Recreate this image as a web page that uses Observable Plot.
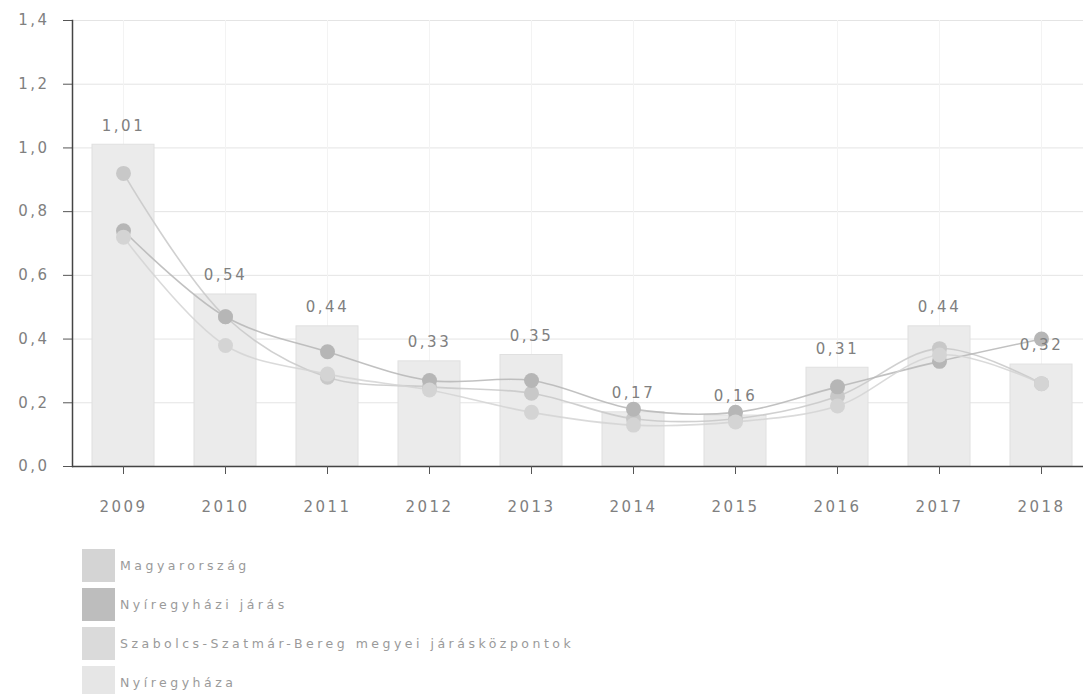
<!DOCTYPE html>
<html>
<head>
<meta charset="utf-8">
<script src="https://cdn.jsdelivr.net/npm/d3@7"></script>
<script src="https://cdn.jsdelivr.net/npm/@observablehq/plot@0.6"></script>
<style>
  html, body { margin: 0; padding: 0; background: #fff; }
  #chart svg { display: block; }
  .legend { margin: 18px 0 0 82px; font-family: "DejaVu Sans", sans-serif; font-size: 12.5px; letter-spacing: 3.5px; color: #9a9a9a; }
  .legend .row { display: flex; align-items: center; height: 34px; margin-bottom: 5px; }
  .legend .sw { width: 33px; height: 33px; margin-right: 5px; }
</style>
</head>
<body>
<div id="chart"></div>
<script>
const years = ["2009","2010","2011","2012","2013","2014","2015","2016","2017","2018"];
const nyiregyhaza = [1.01, 0.54, 0.44, 0.33, 0.35, 0.17, 0.16, 0.31, 0.44, 0.32];
const magyarorszag = [0.92, 0.47, 0.28, 0.25, 0.23, 0.15, 0.15, 0.22, 0.37, 0.26];
const jaras = [0.74, 0.47, 0.36, 0.27, 0.27, 0.18, 0.17, 0.25, 0.33, 0.40];
const szabolcs = [0.72, 0.38, 0.29, 0.24, 0.17, 0.13, 0.14, 0.19, 0.35, 0.26];
const yTicks = [0, 0.2, 0.4, 0.6, 0.8, 1.0, 1.2, 1.4];

const seriesNames = ["Magyarország", "Nyíregyházi járás", "Szabolcs-Szatmár-Bereg megyei járásközpontok", "Nyíregyháza"];
const seriesColors = ["#c8c8c8", "#b6b6b6", "#d4d4d4", "#e6e6e6"];

const fmt = v => v.toFixed(2).replace(".", ",");
const fmtTick = v => v.toFixed(1).replace(".", ",");

const bars = years.map((y, i) => ({year: y, value: nyiregyhaza[i]}));
const lineData = [];
[[magyarorszag, 0], [jaras, 1], [szabolcs, 2]].forEach(([arr, k]) => {
  years.forEach((y, i) => lineData.push({year: y, value: arr[i], series: seriesNames[k]}));
});

const font = "DejaVu Sans, sans-serif";
let marks = [
  Plot.gridY(yTicks, {stroke: "#e4e4e4", strokeOpacity: 1}),
  Plot.ruleX(years, {x: d => d, y1: 0, y2: 1.4, stroke: "#f3f3f3"}),
  Plot.barY(bars, {x: "year", y: "value", fill: "#ebebeb", stroke: "#e0e0e0", strokeWidth: 1}),
  Plot.line(lineData, {x: "year", y: "value", z: "series", stroke: "series", strokeWidth: 1.6, strokeOpacity: 0.85, curve: "catmull-rom"}),
  Plot.dot(lineData, {x: "year", y: "value", fill: "series", r: 7.5}),
  Plot.text(bars, {x: "year", y: "value", text: d => fmt(d.value), dy: -19, fill: "#808080", fontSize: 15, fontFamily: font, style: "letter-spacing:2.5px"}),
  Plot.ruleY([0], {stroke: "#444", strokeWidth: 1.5}),
  Plot.axisY({ticks: yTicks, tickFormat: fmtTick, tickSize: 9, tickPadding: 14, fontSize: 15, fill: "#808080", stroke: "#555", label: null}),
  Plot.axisX({tickSize: 8, tickPadding: 27, fontSize: 15, fill: "#808080", stroke: "#555", label: null})
];
try { marks.push(Plot.frame({anchor: "left", stroke: "#444", strokeWidth: 1.5})); } catch (e) {}

const chart = Plot.plot({
  width: 1083,
  height: 530,
  marginTop: 20,
  marginBottom: 64,
  marginLeft: 72,
  marginRight: -9,
  style: {fontFamily: font, background: "#fff", letterSpacing: "2.5px"},
  x: {domain: years, range: [72, 1092], paddingInner: 0.39, paddingOuter: 0.195, label: null},
  y: {domain: [0, 1.4], label: null},
  color: {domain: seriesNames, range: seriesColors},
  marks
});
document.getElementById("chart").appendChild(chart);

const legend = document.createElement("div");
legend.className = "legend";
seriesNames.forEach((n, i) => {
  const row = document.createElement("div");
  row.className = "row";
  const sw = document.createElement("div");
  sw.className = "sw";
  sw.style.background = ["#d4d4d4", "#bdbdbd", "#dadada", "#e6e6e6"][i];
  const t = document.createElement("span");
  t.textContent = n;
  row.appendChild(sw); row.appendChild(t);
  legend.appendChild(row);
});
document.body.appendChild(legend);
</script>
</body>
</html>
